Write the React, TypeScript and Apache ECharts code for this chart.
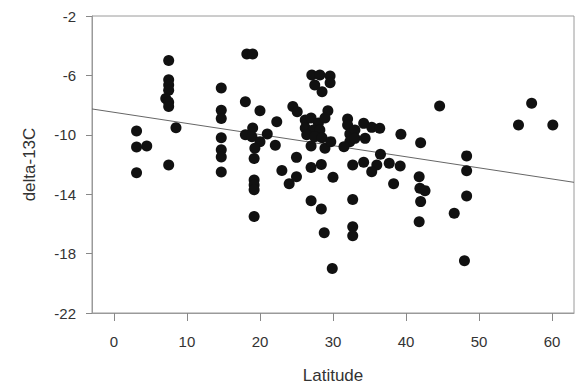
import React, { useEffect, useRef } from "react";
import * as echarts from "echarts";

// Tick labels
const xTicks = [0, 10, 20, 30, 40, 50, 60];
const yTicks = [-22, -18, -14, -10, -6, -2];

// Regression line end points [latitude, delta-13C]
const trendLat = [-3, 63];
const trendD13C = [-8.26, -13.2];

// Observations [latitude, delta-13C], grouped by latitude band
const band0to10: number[][] = [
  [3.1, -9.75], [3.1, -10.82], [4.5, -10.75], [3.1, -12.55],
  [7.5, -5.0], [7.5, -6.3], [7.5, -6.65], [7.5, -7.0], [7.1, -7.55],
  [7.5, -7.8], [7.5, -8.1], [7.5, -12.03], [8.5, -9.52],
];
const band10to20: number[][] = [
  [14.7, -6.85], [14.7, -8.35], [14.7, -8.9], [14.7, -10.2], [14.7, -11.0],
  [14.7, -11.5], [14.7, -12.5],
  [18.2, -4.56], [19.0, -4.56], [18.0, -7.77], [20.0, -8.38], [19.0, -9.54],
  [18.0, -10.0], [18.9, -10.13], [21.0, -9.95], [20.0, -10.46], [19.3, -10.9],
  [19.2, -11.6], [19.2, -13.04], [19.2, -13.38], [19.2, -13.7], [19.2, -15.5],
];
const band20to30: number[][] = [
  [22.3, -9.12], [22.1, -10.7], [24.5, -8.1], [25.1, -8.45], [25.0, -11.52],
  [23.0, -12.4], [24.0, -13.3], [25.0, -12.82],
  [27.1, -5.97], [28.2, -5.97], [29.6, -6.04], [29.6, -6.5], [27.5, -6.65],
  [28.5, -7.1], [26.2, -9.0], [27.0, -8.87], [28.0, -9.2], [29.3, -8.38],
  [28.9, -8.87], [26.2, -9.54], [27.3, -9.68], [28.2, -9.68], [26.4, -10.0],
  [27.5, -10.13], [28.5, -10.2], [27.0, -10.75], [28.9, -10.9], [29.7, -10.46],
  [27.0, -12.2], [28.4, -12.0], [30.0, -12.86], [27.0, -14.44], [28.4, -15.0],
  [28.8, -16.6], [29.9, -19.0],
];
const band30to40: number[][] = [
  [32.0, -8.94], [32.0, -9.34], [32.3, -9.95], [32.3, -10.46], [31.5, -10.8],
  [33.0, -9.68], [33.0, -10.24], [34.4, -10.24], [34.2, -9.23], [35.3, -9.5],
  [36.4, -9.56], [32.7, -12.03], [34.2, -11.85], [36.0, -12.03], [35.3, -12.48],
  [36.5, -11.31], [32.7, -14.35], [32.7, -16.19], [32.7, -16.8],
  [37.7, -11.92], [39.2, -12.1], [38.3, -13.3], [39.3, -9.97],
];
const band40plus: number[][] = [
  [42.0, -10.53], [41.8, -12.82], [41.9, -13.6], [42.6, -13.76], [42.0, -14.5],
  [41.8, -15.85], [44.6, -8.06], [48.3, -11.42], [48.3, -12.42], [48.3, -14.12],
  [46.6, -15.29], [48.0, -18.48], [55.4, -9.34], [57.2, -7.88], [60.1, -9.34],
];

const allPoints = [...band0to10, ...band10to20, ...band20to30, ...band30to40, ...band40plus];

const FONT = "Liberation Sans, Arial, sans-serif";

export default function App() {
  const ref = useRef<HTMLDivElement>(null);
  useEffect(() => {
    document.body.style.margin = "0";
    if (!ref.current) return;
    const chart = echarts.init(ref.current, undefined, { renderer: "svg" });
    chart.setOption({
      animation: false,
      backgroundColor: "#ffffff",
      grid: {
        left: 92, right: 4, top: 16, bottom: 73,
        outerBoundsMode: "none",
        containLabel: false,
        show: true, borderColor: "#9a9a9a", borderWidth: 1,
      },
      xAxis: {
        type: "value", min: -3, max: 63,
        name: "Latitude", nameLocation: "middle", nameGap: 54,
        nameTextStyle: { fontFamily: FONT, fontSize: 17, color: "#333" },
        axisLine: { show: true, onZero: false, lineStyle: { color: "#9a9a9a" } },
        axisTick: { show: true, length: 8, customValues: xTicks, lineStyle: { color: "#888" } },
        axisLabel: { customValues: xTicks, margin: 21, fontFamily: FONT, fontSize: 15, color: "#333" },
        splitLine: { show: false },
      },
      yAxis: {
        type: "value", min: -22, max: -2,
        name: "delta-13C", nameLocation: "middle", nameGap: 54,
        nameTextStyle: { fontFamily: FONT, fontSize: 17, color: "#333" },
        axisLine: { show: true, onZero: false, lineStyle: { color: "#9a9a9a" } },
        axisTick: { show: true, length: 6, customValues: yTicks, lineStyle: { color: "#888" } },
        axisLabel: { customValues: yTicks, margin: 16, fontFamily: FONT, fontSize: 15, color: "#333" },
        splitLine: { show: false },
      },
      series: [
        {
          type: "line",
          data: trendLat.map((x, i) => [x, trendD13C[i]]),
          symbol: "none",
          lineStyle: { color: "#666", width: 1 },
          z: 1,
        },
        {
          type: "scatter",
          data: allPoints,
          symbolSize: 11,
          itemStyle: { color: "#111", opacity: 1 },
          z: 2,
        },
      ],
    });
    return () => chart.dispose();
  }, []);
  return <div ref={ref} style={{ width: 578, height: 386 }} />;
}
